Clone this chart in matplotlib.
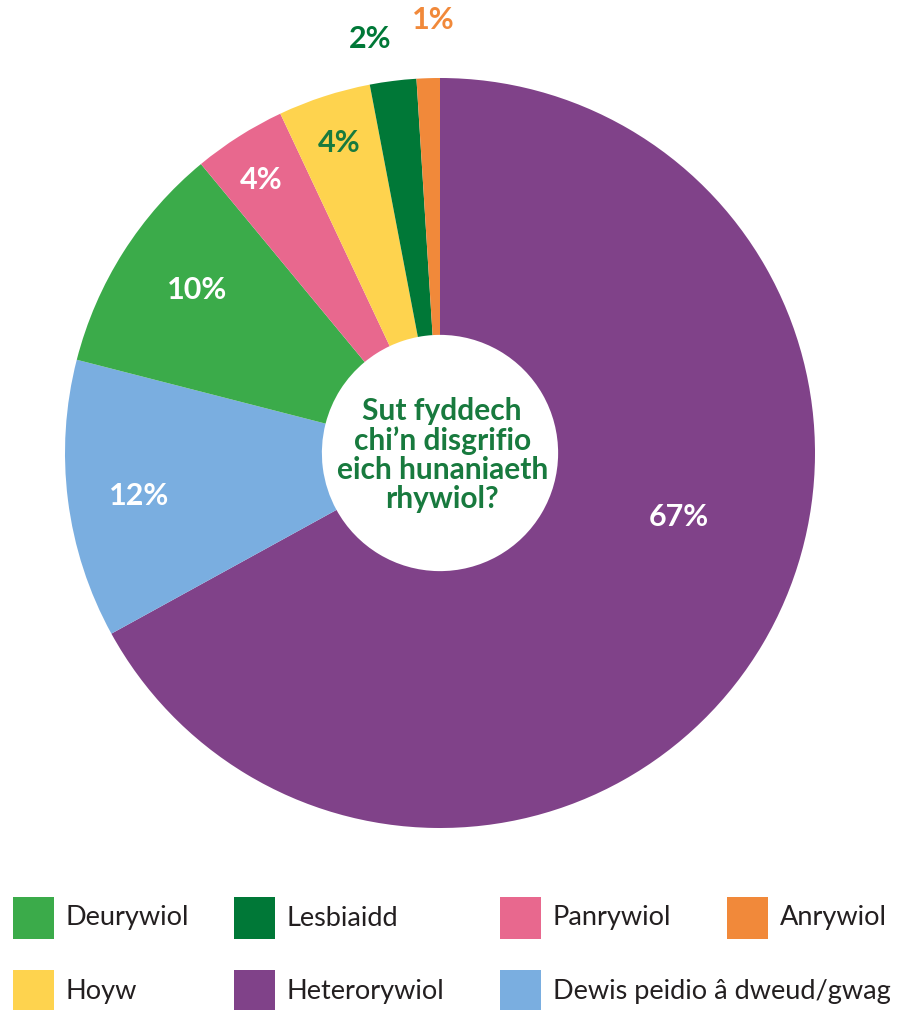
import numpy as np
import matplotlib
matplotlib.use("Agg")
from matplotlib import pyplot as plt
from matplotlib.patches import Rectangle

plt.rcParams['font.family'] = ['Lato', 'DejaVu Sans']

# data, clockwise from the top
labels = ['Heterorywiol', 'Dewis peidio â dweud/gwag', 'Deurywiol', 'Panrywiol',
          'Hoyw', 'Lesbiaidd', 'Anrywiol']
values = [67, 12, 10, 4, 4, 2, 1]
colors = ['#804289', '#7aaee0', '#3bab4a', '#e8688e', '#fed34e', '#007837', '#f1893a']

# label placement (radius, angle shift in degrees) and colour
label_r = [0.66, 0.81, 0.78, 0.87, 0.87, 1.12, 1.155]
label_shift = [15.6, 1.0, -1.4, 0.8, 0.0, 2.4, -0.9]
label_col = ['white', 'white', 'white', 'white', '#187a3e', '#007837', '#f1893a']

legend_order = ['Deurywiol', 'Lesbiaidd', 'Panrywiol', 'Anrywiol',
                'Hoyw', 'Heterorywiol', 'Dewis peidio â dweud/gwag']

W, H = 904, 1010
fig = plt.figure(figsize=(W / 100, H / 100), dpi=100)

# pie axes: centre (440, 453) px, radius 375 px
cx, cy, r = 440, 453, 375
ax = fig.add_axes([(cx - r) / W, (H - cy - r) / H, 2 * r / W, 2 * r / H])
wedges, _ = ax.pie(values, colors=colors, startangle=90, counterclock=False,
                   radius=1.0, wedgeprops=dict(width=0.685, linewidth=0))
ax.set_xlim(-1, 1)
ax.set_ylim(-1, 1)
ax.set_aspect('equal')
ax.axis('off')

for i, w in enumerate(wedges):
    ang = np.deg2rad((w.theta1 + w.theta2) / 2 + label_shift[i])
    ax.text(label_r[i] * np.cos(ang), label_r[i] * np.sin(ang), f'{values[i]}%',
            ha='center', va='center', fontsize=22, fontweight='bold',
            color=label_col[i], clip_on=False)

ax.text(0.006, -0.005, 'Sut fyddech\nchi\u2019n disgrifio\neich hunaniaeth\nrhywiol?',
        ha='center', va='center', fontsize=21.5, fontweight='bold',
        color='#187a3e', linespacing=1.05)

# legend drawn in pixel coordinates
lax = fig.add_axes([0, 0, 1, 1])
lax.set_xlim(0, W)
lax.set_ylim(H, 0)
lax.axis('off')
col_x = [13, 234, 500, 727]
row_y = [918, 991]
for k, name in enumerate(legend_order):
    x = col_x[k % 4]
    y = row_y[k // 4]
    c = colors[labels.index(name)]
    lax.add_patch(Rectangle((x, y - 21), 41, 42, facecolor=c, edgecolor='none'))
    lax.text(x + 53, y, name, ha='left', va='center', fontsize=19.5, color='#231f20')

fig.savefig('out.png', dpi=100)
